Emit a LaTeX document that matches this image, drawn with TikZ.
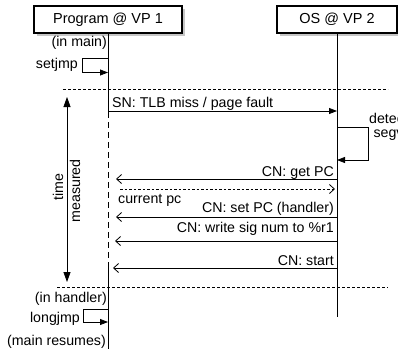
\documentclass[tikz,border=0pt]{standalone}
\usepackage{fontspec}
\setmainfont{Liberation Sans}
\usetikzlibrary{arrows.meta,shadows}
\begin{document}
\begin{tikzpicture}[x=1pt,y=-1pt,
  lbl/.style={font=\fontsize{14.2}{16}\selectfont, inner sep=0pt},
  actor/.style={draw, line width=1.1pt, fill=white, minimum width=#1, minimum height=27pt, inner sep=0pt,
    font=\fontsize{14.5}{16}\selectfont,
    drop shadow={opacity=0.45, shadow xshift=2.5pt, shadow yshift=-2.5pt}},
  life/.style={line width=0.8pt},
  msg/.style={line width=0.8pt, -{Triangle[length=8pt,width=6pt]}},
  ret/.style={line width=0.8pt, -{Straight Barb[length=5pt,width=9pt]}},
  sep/.style={line width=0.7pt, dash pattern=on 3pt off 2pt},
]
\useasboundingbox (0,0) rectangle (398,349);

% actors
\node[actor=148pt] (prog) at (108,19.5) {Program @ VP 1};
\node[actor=120pt] (os) at (337,19.5) {OS @ VP 2};

% lifeline coordinates
\coordinate (pA) at (108,112);
\coordinate (pB) at (108,262);
\coordinate (pE) at (108,349);
\coordinate (oE) at (337,317);

\draw[life] (prog.south) -- (pA);
\draw[life, dash pattern=on 6pt off 4pt] (pA) -- (pB);
\draw[life] (pB) -- (pE);
\draw[life] (os.south) -- (oE);

% separators
\coordinate (s1a) at (63,89);  \coordinate (s1b) at (388,89);
\coordinate (s2a) at (57,287); \coordinate (s2b) at (388,287);
\draw[sep] (s1a) -- (s1b);
\draw[sep] (s2a) -- (s2b);

% texts on program side
\node[lbl, anchor=base east] (inmain) at (107,46) {(in main)};
\node[lbl, anchor=base east] (setjmp) at (78,68) {setjmp};
\coordinate (j1) at (108,58); \coordinate (j2) at (82,58);
\coordinate (j3) at (82,72.5);  \coordinate (j4) at (108,72.5);
\draw[msg] (j1) -- (j2) -- (j3) -- (j4);

% SN message
\coordinate (m1p) at (108,111); \coordinate (m1o) at (337,111);
\draw[msg] (m1p) -- (m1o);
\node[lbl, anchor=base west] (sn) at (112,107) {SN: TLB miss / page fault};

% detect segv
\coordinate (d1) at (337,127); \coordinate (d2) at (368.5,127);
\coordinate (d3) at (368.5,160); \coordinate (d4) at (337,160);
\draw[msg] (d1) -- (d2) -- (d3) -- (d4);
\node[lbl, anchor=base] (detect) at (388.5,123) {detect};
\node[lbl, anchor=base] (segv) at (388.5,137) {segv};

% CN get PC
\coordinate (g1) at (337,179); \coordinate (g2) at (116,179);
\draw[ret] (g1) -- (g2);
\node[lbl, anchor=base east] (getpc) at (334,176.5) {CN: get PC};

% current pc
\coordinate (c1) at (120,189); \coordinate (c2) at (335,189);
\draw[ret, dash pattern=on 2.5pt off 2pt] (c1) -- (c2);
\node[lbl, anchor=base west] (curpc) at (118,203) {current pc};

% CN set PC
\coordinate (h1) at (337,217); \coordinate (h2) at (116,217);
\draw[ret] (h1) -- (h2);
\node[lbl, anchor=base east] (setpc) at (334,212) {CN: set PC (handler)};

% CN write sig num
\coordinate (w1) at (337,241); \coordinate (w2) at (115,241);
\draw[ret] (w1) -- (w2);
\node[lbl, anchor=base east] (wsig) at (334,232.5) {CN: write sig num to \%r1};

% CN start
\coordinate (t1) at (337,268); \coordinate (t2) at (113,268);
\draw[ret] (t1) -- (t2);
\node[lbl, anchor=base east] (start) at (334,265) {CN: start};

% time measured
\coordinate (tm1) at (67,97); \coordinate (tm2) at (67,282);
\draw[line width=0.8pt, {Triangle[length=10pt,width=7pt]}-{Triangle[length=10pt,width=7pt]}] (tm1) -- (tm2);
\node[lbl, rotate=90] (time) at (58,187) {time};
\node[lbl, rotate=90] (meas) at (75,191) {measured};

% handler side
\node[lbl, anchor=base east] (inhand) at (107,302) {(in handler)};
\node[lbl, anchor=base east] (longjmp) at (80,322) {longjmp};
\coordinate (l1) at (108,309); \coordinate (l2) at (83,309);
\coordinate (l3) at (83,322);  \coordinate (l4) at (108,322);
\draw[msg] (l1) -- (l2) -- (l3) -- (l4);
\node[lbl, anchor=base east] (mainres) at (106,345) {(main resumes)};
\end{tikzpicture}
\end{document}
